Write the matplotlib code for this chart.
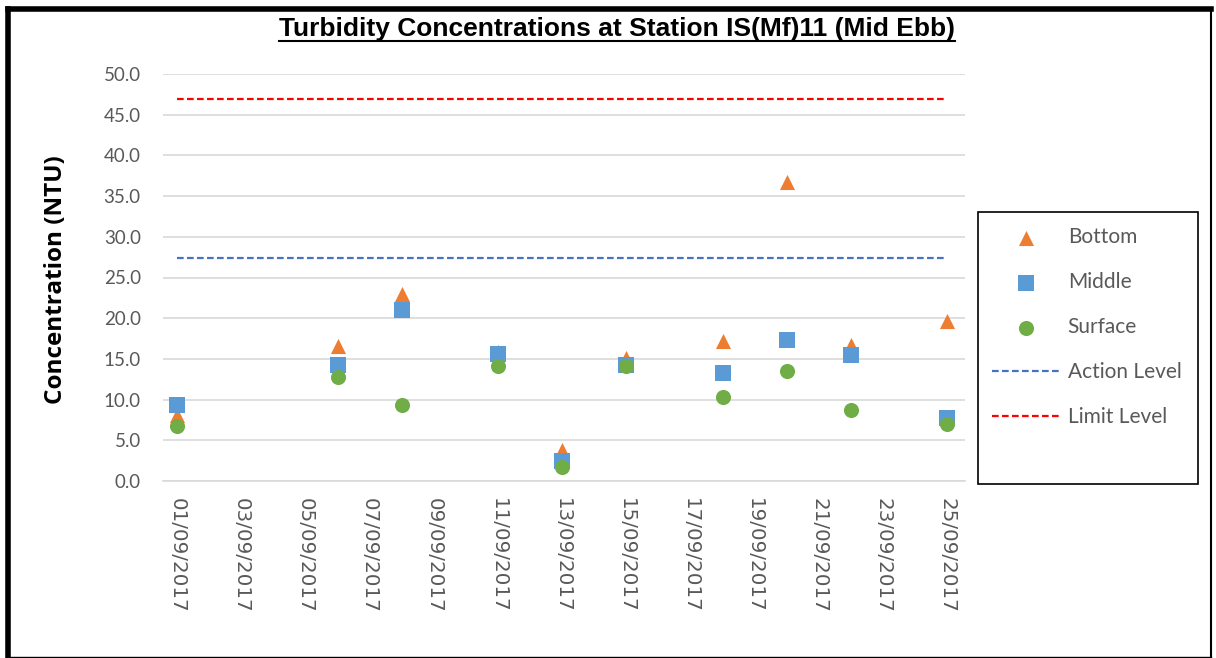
import datetime as dt
import matplotlib
matplotlib.use("Agg")
import matplotlib.pyplot as plt
import matplotlib.dates as mdates
from matplotlib.ticker import FormatStrFormatter
from matplotlib.lines import Line2D
from matplotlib.patches import Rectangle

# sampling days in September 2017
days = [1, 6, 8, 11, 13, 15, 18, 20, 22, 25]
bottom = [8.1, 16.6, 23.0, 15.8, 3.8, 15.1, 17.2, 36.7, 16.7, 19.7]
middle = [9.3, 14.3, 21.0, 15.6, 2.5, 14.3, 13.3, 17.3, 15.5, 7.7]
surface = [6.8, 12.8, 9.3, 14.1, 1.7, 14.1, 10.3, 13.5, 8.7, 7.0]
action_level = 27.4
limit_level = 46.9

dates = [dt.datetime(2017, 9, d) for d in days]

plt.rcParams["font.family"] = ["Lato", "DejaVu Sans"]

W, H = 1216, 658
fig = plt.figure(figsize=(W / 100, H / 100), dpi=100)
ax = fig.add_axes([163 / W, 1 - 481 / H, (965 - 163) / W, (481 - 74) / H])

ax.scatter(dates, bottom, marker="^", s=118, color="#ED7D31", label="Bottom", zorder=3, linewidths=0)
ax.scatter(dates, middle, marker="s", s=118, color="#5B9BD5", label="Middle", zorder=4, linewidths=0)
ax.scatter(dates, surface, marker="o", s=118, color="#70AD47", label="Surface", zorder=5, linewidths=0)
ends = [dates[0], dates[-1]]
ax.plot(ends, [action_level] * 2, ls=(0, (3, 1.5)), color="#4472C4", lw=1.6, label="Action Level")
ax.plot(ends, [limit_level] * 2, ls=(0, (3, 1.5)), color="#FF0000", lw=1.6, label="Limit Level")

day0 = mdates.date2num(dt.datetime(2017, 9, 1))
ax.set_xlim(day0 - 0.44, day0 + 24.55)
ax.set_ylim(0, 50)
ax.set_yticks([i * 5 for i in range(11)])
ax.yaxis.set_major_formatter(FormatStrFormatter("%.1f"))
ax.xaxis.set_major_locator(mdates.DayLocator(bymonthday=range(1, 32, 2)))
ax.xaxis.set_major_formatter(mdates.DateFormatter("%d/%m/%Y"))
ax.tick_params(axis="x", rotation=-90, length=0, pad=12, labelsize=14.3, colors="#595959")
ax.tick_params(axis="y", length=0, pad=16, labelsize=13.5, colors="#595959")
for lbl in ax.get_xticklabels():
    lbl.set_family("DejaVu Sans")
    lbl.set_va("top")
    lbl.set_ha("center")

ax.grid(axis="y", color="#D9D9D9", lw=1.2)
ax.set_axisbelow(True)
for side in ["top", "right", "left"]:
    ax.spines[side].set_visible(False)
ax.spines["bottom"].set_color("#D9D9D9")
ax.spines["bottom"].set_linewidth(1.2)

ylab = ax.set_ylabel("Concentration (NTU)", fontsize=17.5, fontweight="bold",
                     family=["Open Sans", "DejaVu Sans"])
ylab.set_va("center")
ax.yaxis.set_label_coords(-0.1334, 0.495)

# title, underlined
title = fig.text(617 / W, 1 - 29 / H, "Turbidity Concentrations at Station IS(Mf)11 (Mid Ebb)",
                 ha="center", va="center", fontsize=19, fontweight="bold",
                 family=["Liberation Sans Narrow", "Liberation Sans", "DejaVu Sans"])
fig.canvas.draw()
bb = title.get_window_extent().transformed(fig.transFigure.inverted())
fig.add_artist(Line2D([bb.x0, bb.x1], [1 - 41 / H] * 2, color="black", lw=1.5,
                      transform=fig.transFigure))

# legend box
fig.add_artist(Rectangle((978 / W, 1 - 484 / H), (1198 - 978) / W, (484 - 212) / H,
                         transform=fig.transFigure, fill=False, ec="black", lw=1.2))
fig.legend(loc="upper left", bbox_to_anchor=(992 / W, 1 - 227 / H), frameon=False,
           fontsize=15, labelspacing=1.2, handlelength=3.3, handletextpad=0.33,
           borderpad=0, borderaxespad=0, labelcolor="#595959", scatterpoints=1)

# outer frame: heavy top/left, light right/bottom
frame = fig.transFigure
fig.add_artist(Line2D([7.5 / W, 7.5 / W], [1 - 8.5 / H, 1.5 / H], color="black", lw=4, transform=frame))
fig.add_artist(Line2D([7.5 / W, 1211 / W], [1 - 8.5 / H, 1 - 8.5 / H], color="black", lw=4, transform=frame))
fig.add_artist(Line2D([1211 / W, 1211 / W], [1 - 8.5 / H, 1.5 / H], color="black", lw=1.5, transform=frame))
fig.add_artist(Line2D([7.5 / W, 1211 / W], [1.5 / H, 1.5 / H], color="black", lw=1, transform=frame))

fig.savefig("out.png", dpi=100)
